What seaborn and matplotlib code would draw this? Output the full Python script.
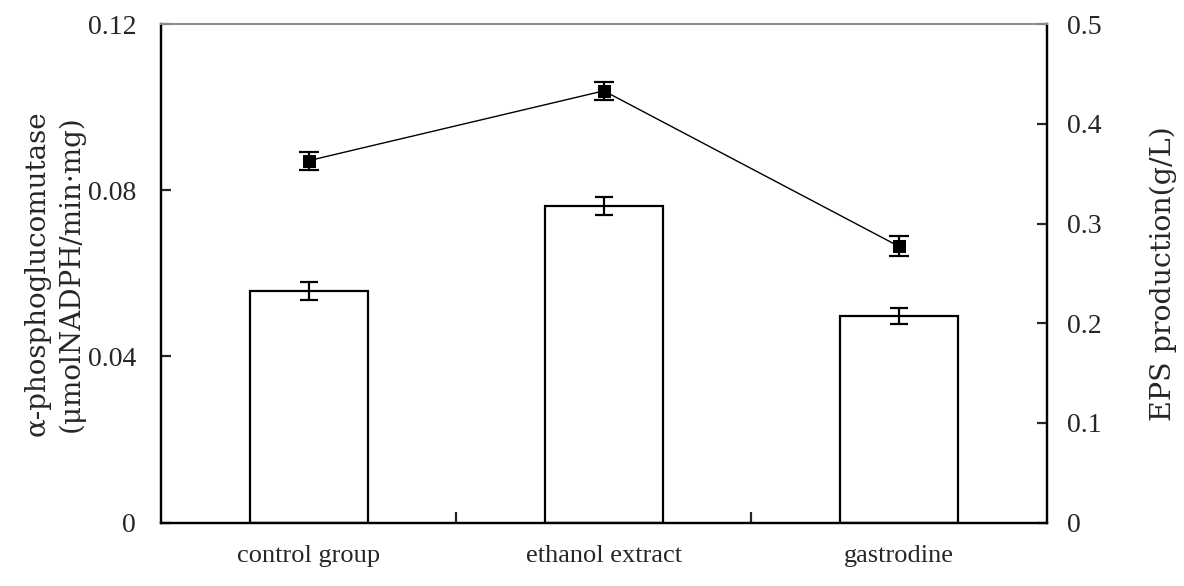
import matplotlib
matplotlib.use("Agg")
import matplotlib.pyplot as plt
import seaborn as sns
import pandas as pd
import numpy as np

# Treatment groups and measurements
groups = ["control group", "ethanol extract", "gastrodine"]
enzyme_activity = [0.0558, 0.0762, 0.0497]      # α-phosphoglucomutase (left axis)
enzyme_err = [0.0021, 0.0022, 0.0019]
eps_production = [0.363, 0.433, 0.277]          # EPS production g/L (right axis)
eps_err = [0.009, 0.009, 0.010]
left_ticks = [0, 0.04, 0.08, 0.12]
left_tick_labels = ["0", "0.04", "0.08", "0.12"]
right_ticks = [0, 0.1, 0.2, 0.3, 0.4, 0.5]
right_tick_labels = ["0", "0.1", "0.2", "0.3", "0.4", "0.5"]

df = pd.DataFrame({"group": groups, "activity": enzyme_activity,
                   "eps": eps_production})

sns.set_style("white")
plt.rcParams["font.family"] = ["Liberation Serif", "DejaVu Serif"]

fig, ax = plt.subplots(figsize=(11.84, 5.86), dpi=100)
fig.subplots_adjust(left=0.136, right=0.884, top=0.959, bottom=0.108)

sns.barplot(data=df, x="group", y="activity", ax=ax, color="white",
            edgecolor="black", linewidth=1.6, width=0.4, errorbar=None,
            saturation=1)
x = np.arange(len(groups))
ax.errorbar(x, enzyme_activity, yerr=enzyme_err, fmt="none", ecolor="black",
            elinewidth=1.6, capsize=6.5, capthick=1.6)

ax.set_xlim(-0.5, 2.5)
ax.set_ylim(0, 0.12)
ax.set_yticks(left_ticks)
ax.set_yticklabels(left_tick_labels)
ax.set_xlabel("")
ax.set_ylabel("α-phosphoglucomutase\n(μmolNADPH/min·mg)", fontsize=20,
              family=["DejaVu Serif"], linespacing=1.3)
ax.yaxis.set_label_coords(-0.086, 0.5)
ax.tick_params(axis="y", direction="in", length=7, width=1.6, pad=18,
               labelsize=20, left=True)
ax.tick_params(axis="x", which="major", length=0, pad=16, labelsize=19)
ax.set_xticks([0.5, 1.5], minor=True)
ax.tick_params(axis="x", which="minor", direction="in", length=8, width=1.6,
               bottom=True)

ax2 = ax.twinx()
sns.lineplot(data=df, x="group", y="eps", ax=ax2, color="black",
             linewidth=1.0, marker="s", markersize=8, markeredgecolor="black",
             sort=False)
ax2.errorbar(x, eps_production, yerr=eps_err, fmt="none", ecolor="black",
             elinewidth=1.6, capsize=7, capthick=1.6)
ax2.set_ylim(0, 0.5)
ax2.set_yticks(right_ticks)
ax2.set_yticklabels(right_tick_labels)
ax2.set_ylabel("EPS production(g/L)", fontsize=20.5, family=["DejaVu Serif"])
ax2.yaxis.set_label_coords(1.116, 0.5)
ax2.tick_params(axis="y", direction="in", length=7, width=1.6, pad=15,
                labelsize=20, right=True)
ax2.set_xlim(-0.5, 2.5)

for a in (ax, ax2):
    for side in ("left", "right", "bottom"):
        a.spines[side].set_color("black")
        a.spines[side].set_linewidth(1.6)
    a.spines["top"].set_color("#8c8c8c")
    a.spines["top"].set_linewidth(1.4)

fig.savefig("out.png", dpi=100, facecolor="white")
